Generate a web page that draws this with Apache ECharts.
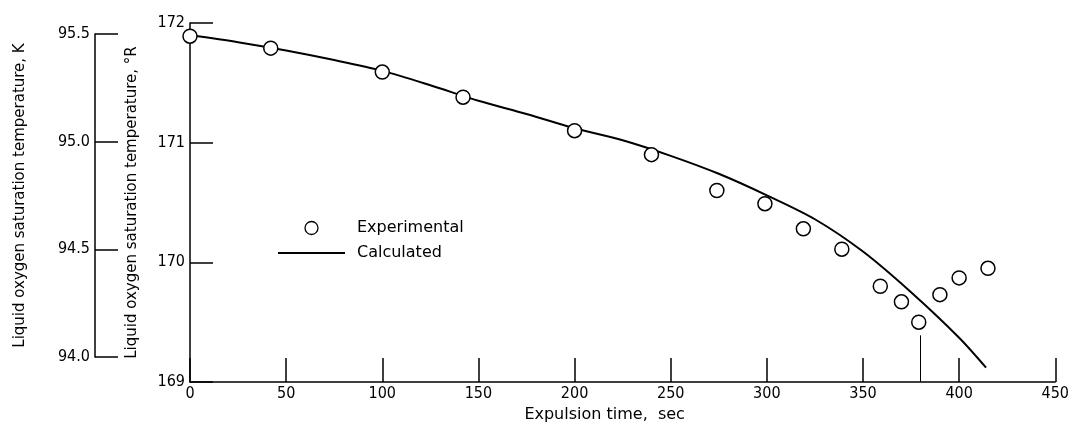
<!DOCTYPE html>
<html>
<head>
<meta charset="utf-8">
<script src="https://cdn.jsdelivr.net/npm/echarts@6/dist/echarts.min.js"></script>
<style>html,body{margin:0;padding:0;background:#fff}#c{width:1072px;height:429px}</style>
</head>
<body>
<div id="c"></div>
<script>
// Experimental points: [expulsion time (sec), temperature (°R)]
var expTime = [0, 42, 100, 142, 200, 240, 274, 299, 319, 339, 359, 370, 379, 390, 400, 415];
var expTemp = [171.89, 171.79, 171.59, 171.38, 171.10, 170.90, 170.60, 170.49, 170.28, 170.11, 169.80, 169.67, 169.50, 169.73, 169.87, 169.95];
// Calculated curve
var calcTime = [0, 25, 50, 75, 100, 125, 150, 175, 200, 225, 250, 275, 300, 325, 350, 375, 400, 414];
var calcTemp = [171.90, 171.84, 171.77, 171.69, 171.60, 171.48, 171.35, 171.24, 171.12, 171.02, 170.89, 170.74, 170.56, 170.36, 170.09, 169.75, 169.37, 169.12];
// Drop line annotation at 380 sec
var dropLine = [380, 169.39];
// Axis ranges / tick labels
var xTicks = [0, 450, 50];
var rTicks = [169, 172, 1];
var kTicks = [94.0, 95.5, 0.5];

var font = 'DejaVu Sans';
var tickFont = 'DejaVu Sans Condensed';

var chart = echarts.init(document.getElementById('c'), null, {renderer: 'canvas'});
var axisLine = {show: true, lineStyle: {color: '#000', width: 1.5}};
chart.setOption({
  animation: false,
  backgroundColor: '#fff',
  grid: [
    {left: 190, right: 15, top: 23, bottom: 47},
    {left: 95, width: 10, top: 34, height: 323}
  ],
  legend: {
    orient: 'vertical', left: 273, top: 215, itemGap: 9,
    itemWidth: 67, itemHeight: 13,
    textStyle: {fontFamily: font, fontSize: 16, color: '#000', padding: [0, 0, 0, 7]},
    data: [
      {name: 'Experimental', icon: 'circle', itemStyle: {color: '#fff', borderColor: '#000', borderWidth: 1.3}},
      {name: 'Calculated', icon: 'path://M0,0L100,0L100,3L0,3Z', itemStyle: {color: '#000', borderWidth: 0}}
    ]
  },
  xAxis: [
    {type: 'value', gridIndex: 0, min: xTicks[0], max: xTicks[1], interval: xTicks[2],
     axisLine: axisLine, splitLine: {show: false},
     axisTick: {show: true, inside: true, length: 24, lineStyle: {color: '#000', width: 1.5}},
     axisLabel: {color: '#000', fontFamily: tickFont, fontSize: 16, margin: 4},
     name: 'Expulsion time,  sec', nameLocation: 'middle', nameGap: 23,
     nameTextStyle: {color: '#000', fontFamily: font, fontSize: 16, padding: [0, 36, 0, 0]}},
    {type: 'value', gridIndex: 1, show: false}
  ],
  yAxis: [
    {type: 'value', gridIndex: 0, min: rTicks[0], max: rTicks[1], interval: rTicks[2],
     axisLine: axisLine, splitLine: {show: false},
     axisTick: {show: true, inside: true, length: 23, lineStyle: {color: '#000', width: 1.5}},
     axisLabel: {color: '#000', fontFamily: tickFont, fontSize: 16, margin: 5},
     name: 'Liquid oxygen saturation temperature, °R', nameLocation: 'middle', nameGap: 50,
     nameTextStyle: {color: '#000', fontFamily: font, fontSize: 15}},
    {type: 'value', gridIndex: 1, min: kTicks[0], max: kTicks[1], interval: kTicks[2],
     axisLine: axisLine, splitLine: {show: false},
     axisTick: {show: true, inside: true, length: 23, lineStyle: {color: '#000', width: 1.5}},
     axisLabel: {color: '#000', fontFamily: tickFont, fontSize: 16, margin: 5,
                 formatter: function (v) { return v.toFixed(1); }},
     name: 'Liquid oxygen saturation temperature, K', nameLocation: 'middle', nameGap: 67,
     nameTextStyle: {color: '#000', fontFamily: font, fontSize: 15}}
  ],
  series: [
    {name: 'Calculated', type: 'line', xAxisIndex: 0, yAxisIndex: 0, smooth: 0.3,
     symbol: 'none', lineStyle: {color: '#000', width: 2}, itemStyle: {color: '#000'}, z: 2,
     data: calcTime.map(function (t, i) { return [t, calcTemp[i]]; })},
    {name: 'Experimental', type: 'scatter', xAxisIndex: 0, yAxisIndex: 0, symbol: 'circle', symbolSize: 14,
     itemStyle: {color: '#fff', borderColor: '#000', borderWidth: 1.5, opacity: 1}, z: 3,
     data: expTime.map(function (t, i) { return [t, expTemp[i]]; }),
     markLine: {silent: true, symbol: 'none', label: {show: false},
       lineStyle: {color: '#000', width: 1, type: 'solid'},
       data: [[{coord: [dropLine[0], rTicks[0]]}, {coord: [dropLine[0], dropLine[1]]}]]}}
  ]
});
</script>
</body>
</html>
